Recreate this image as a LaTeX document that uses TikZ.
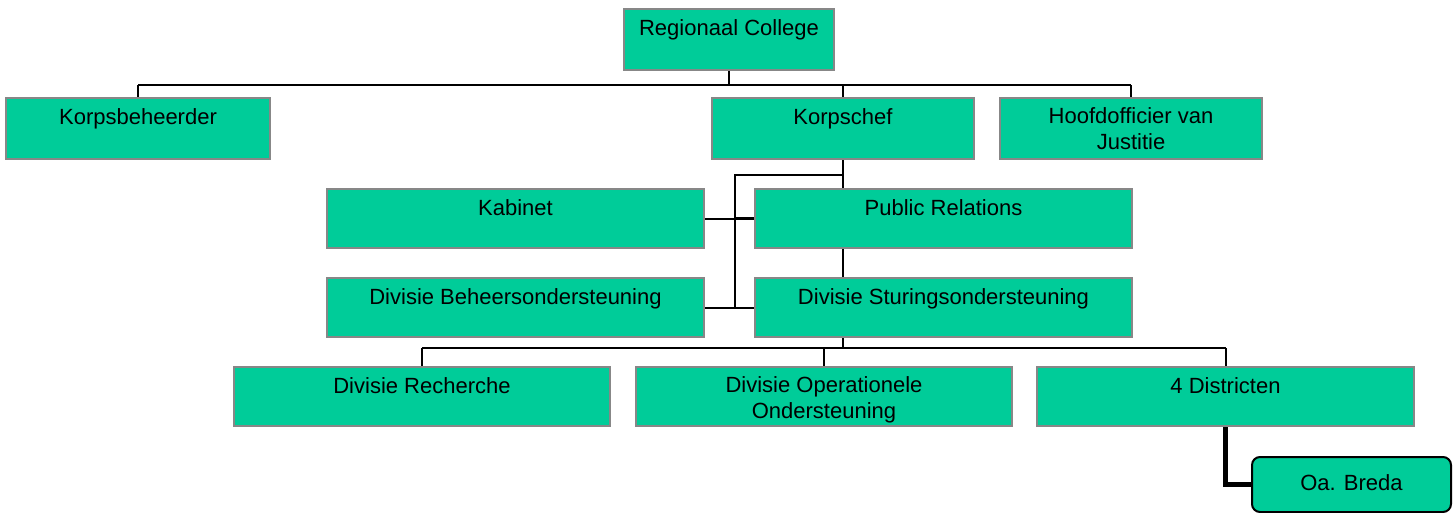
\documentclass[tikz,border=0pt]{standalone}
\usepackage{fontspec}
\setmainfont{Liberation Sans}
\usetikzlibrary{backgrounds}
\definecolor{boxgreen}{HTML}{00CC99}
\definecolor{boxgray}{HTML}{878787}
\begin{document}
\begin{tikzpicture}[x=1pt,y=-1pt,
  box/.style={draw=boxgray, line width=2pt, fill=boxgreen, anchor=north west, inner sep=0pt},
  lbl/.style={font=\fontsize{22}{26}\selectfont, align=center, inner sep=0pt, anchor=base},
  conn/.style={line width=2pt, black},
  heavy/.style={line width=5pt, black}]
\useasboundingbox (0,0) rectangle (1456,512);
% boxes
\node[box, minimum width=210pt, minimum height=61pt] (rc) at (623,8) {};
\node[box, minimum width=264pt, minimum height=61pt] (kb) at (5,97) {};
\node[box, minimum width=262pt, minimum height=61pt] (kc) at (711,97) {};
\node[box, minimum width=262pt, minimum height=61pt] (ho) at (999,97) {};
\node[box, minimum width=377pt, minimum height=59pt] (kab) at (326,188) {};
\node[box, minimum width=377pt, minimum height=59pt] (pr) at (754,188) {};
\node[box, minimum width=377pt, minimum height=59pt] (db) at (326,277) {};
\node[box, minimum width=377pt, minimum height=59pt] (st) at (754,277) {};
\node[box, minimum width=376pt, minimum height=59pt] (re) at (233,366) {};
\node[box, minimum width=376pt, minimum height=59pt] (op) at (635,366) {};
\node[box, minimum width=377pt, minimum height=59pt] (di) at (1036,366) {};
\node[box, draw=black, rounded corners=8pt, minimum width=199pt, minimum height=55pt] (br) at (1251,456) {};
% labels
\node[lbl] (trc) at ([yshift=-27]rc.north) {Regionaal College};
\node[lbl] (tkb) at ([yshift=-27]kb.north) {Korpsbeheerder};
\node[lbl] (tkc) at ([yshift=-27]kc.north) {Korpschef};
\node[lbl, anchor=north] (tho) at ([yshift=-10]ho.north) {Hoofdofficier van\\Justitie};
\node[lbl] (tkab) at ([yshift=-27]kab.north) {Kabinet};
\node[lbl] (tpr) at ([yshift=-27]pr.north) {Public Relations};
\node[lbl] (tdb) at ([yshift=-27]db.north) {Divisie Beheersondersteuning};
\node[lbl] (tst) at ([yshift=-27]st.north) {Divisie Sturingsondersteuning};
\node[lbl] (tre) at ([yshift=-27]re.north) {Divisie Recherche};
\begin{scope}
  \clip (op.north west) rectangle ([yshift=4]op.south east);
  \node[lbl, anchor=north] (top) at ([yshift=-10]op.north) {Divisie Operationele\\Ondersteuning};
\end{scope}
\node[lbl] (tdi) at ([yshift=-27]di.north) {4 Districten};
\node[lbl, anchor=center] (tbr) at ([yshift=2]br.center) {Oa. Breda};
% connectors
\begin{scope}[on background layer]
  \coordinate (j1) at ([yshift=-14]rc.south);
  \draw[conn] (rc.south) -- (j1);
  \draw[conn] (kb.north |- j1) -- (ho.north |- j1);
  \draw[conn] (j1 -| kb.north) -- (kb.north);
  \draw[conn] (j1 -| ho.north) -- (ho.north);
  \coordinate (j3) at ([yshift=-10]kc.south |- st.south);
  \draw[conn] (j1 -| kc.south) -- (j3);
  \draw[conn] ([yshift=-15]kc.south) -| ([xshift=-108]kc.south |- st.west);
  \draw[conn] (kab.east) -- (pr.west);
  \draw[line width=3pt] ([xshift=-20]pr.west) -- (pr.west);
  \draw[conn] (db.east) -- (st.west);
  \draw[conn] (re.north |- j3) -- (di.north |- j3);
  \draw[conn] (j3 -| re.north) -- (re.north);
  \draw[conn] (j3 -| op.north) -- (op.north);
  \draw[conn] (j3 -| di.north) -- (di.north);
  \draw[heavy] (di.south) |- (br.west);
\end{scope}
\end{tikzpicture}
\end{document}
